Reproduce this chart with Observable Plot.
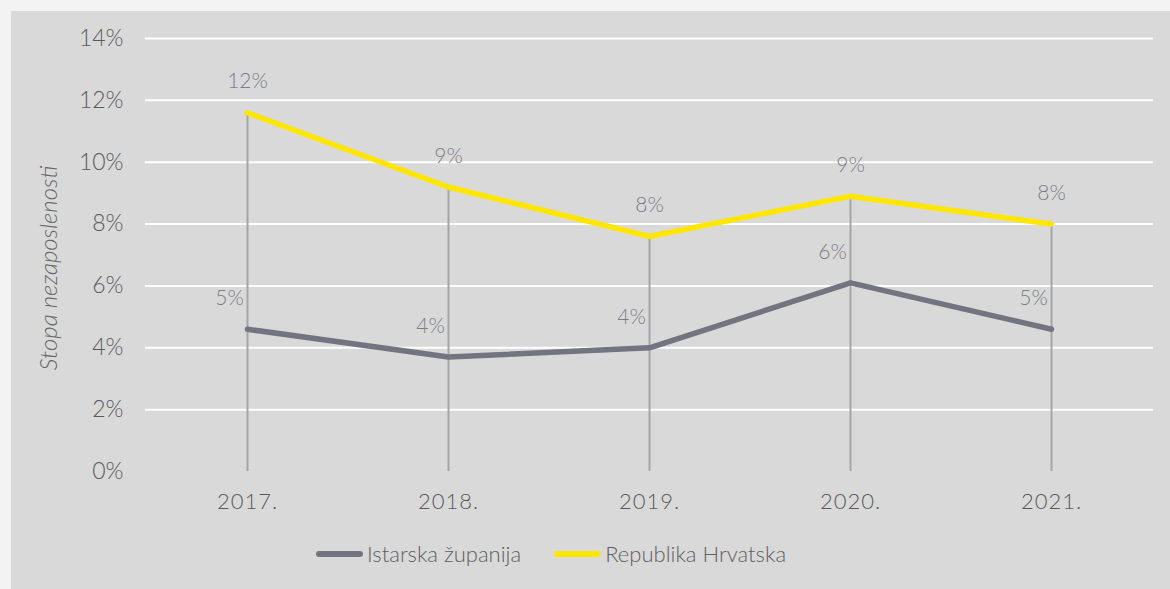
<!DOCTYPE html>
<html>
<head>
<meta charset="utf-8">
<script src="https://cdn.jsdelivr.net/npm/d3@7"></script>
<script src="https://cdn.jsdelivr.net/npm/@observablehq/plot@0.6"></script>
<style>
  html, body { margin: 0; padding: 0; }
  body { width: 1170px; height: 589px; background: #f3f3f3; position: relative; overflow: hidden; font-family: Lato, "Open Sans", sans-serif; }
  #panel { position: absolute; left: 11px; top: 11px; width: 1159px; height: 578px; background: #d9d9d9; }
  #chart { position: absolute; left: 0; top: 0; }
  #ytitle { position: absolute; left: 36px; top: 257px; transform: translate(-50%, -50%) rotate(-90deg); font-style: italic; font-size: 24px; color: #666; white-space: nowrap; font-weight: 300; }
  #legend { position: absolute; left: 305px; top: 529px; display: flex; align-items: center; font-size: 22px; color: #606060; font-weight: 300; }
  .sw { display: inline-block; width: 47px; height: 6px; border-radius: 3px; margin-right: 4px; }
  .item { display: flex; align-items: center; margin-right: 33px; }
  g[aria-label="x-axis tick label"] text { letter-spacing: 1px; }
</style>
</head>
<body>
<div id="panel">
  <div id="chart"></div>
  <div id="ytitle">Stopa nezaposlenosti</div>
  <div id="legend"></div>
</div>
<script>
const years = ["2017.", "2018.", "2019.", "2020.", "2021."];
const istarska = [4.6, 3.7, 4.0, 6.1, 4.6];
const hrvatska = [11.6, 9.2, 7.6, 8.9, 8.0];
const istarskaLabels = ["5%", "4%", "4%", "6%", "5%"];
const hrvatskaLabels = ["12%", "9%", "8%", "9%", "8%"];
const yTicks = [0, 2, 4, 6, 8, 10, 12, 14];
const seriesNames = ["Istarska županija", "Republika Hrvatska"];
const seriesColors = ["#747480", "#ffe600"];

const rows = [];
years.forEach((yr, i) => {
  rows.push({year: yr, value: istarska[i], label: istarskaLabels[i], series: seriesNames[0]});
  rows.push({year: yr, value: hrvatska[i], label: hrvatskaLabels[i], series: seriesNames[1]});
});
const drops = years.map((yr, i) => ({year: yr, top: Math.max(istarska[i], hrvatska[i])}));

const chart = Plot.plot({
  width: 1159,
  height: 510,
  marginLeft: 134,
  marginRight: 17,
  marginTop: 27,
  marginBottom: 50,
  style: {background: "transparent", fontFamily: "Lato, 'Open Sans', sans-serif"},
  x: {type: "point", domain: years, padding: 0.5, label: null},
  y: {domain: [0, 14], label: null},
  color: {domain: seriesNames, range: seriesColors},
  marks: [
    Plot.gridY(yTicks.filter(d => d > 0), {stroke: "#ffffff", strokeOpacity: 1, strokeWidth: 2}),
    Plot.axisY(yTicks, {tickFormat: d => d + "%", tickSize: 0, tickPadding: 22, fontSize: 23, color: "#595959", fontWeight: 300}),
    Plot.axisX({tickSize: 0, tickPadding: 22, fontSize: 22, color: "#595959", fontWeight: 300}),
    Plot.ruleX(drops, {x: "year", y1: 0, y2: "top", stroke: "#a5a5a5", strokeWidth: 2}),
    Plot.line(rows, {x: "year", y: "value", z: "series", stroke: "series", strokeWidth: 5.5, strokeLinecap: "round", strokeLinejoin: "round"}),
    Plot.text(rows.filter(d => d.series === seriesNames[1]), {x: "year", y: "value", text: "label", dy: -31, fontSize: 21, fill: "#7d7d87", fontWeight: 300}),
    Plot.text(rows.filter(d => d.series === seriesNames[0]), {x: "year", y: "value", text: "label", dy: -31, dx: -18, fontSize: 21, fill: "#7d7d87", fontWeight: 300})
  ]
});
document.getElementById("chart").appendChild(chart);

const legend = document.getElementById("legend");
seriesNames.forEach((name, i) => {
  const item = document.createElement("div");
  item.className = "item";
  const sw = document.createElement("span");
  sw.className = "sw";
  sw.style.background = seriesColors[i];
  const t = document.createElement("span");
  t.textContent = name;
  item.appendChild(sw);
  item.appendChild(t);
  legend.appendChild(item);
});
</script>
</body>
</html>
